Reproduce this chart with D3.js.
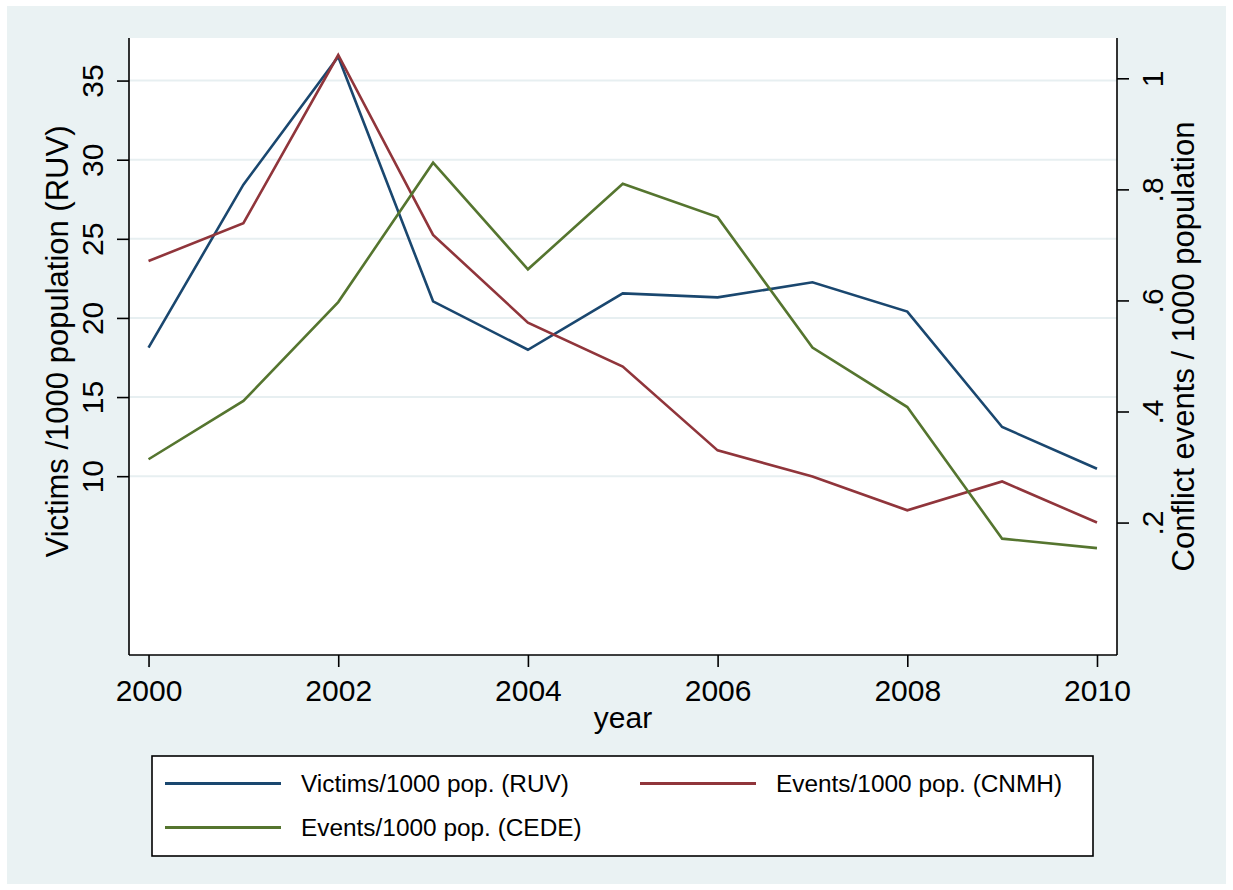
<!DOCTYPE html>
<html>
<head>
<meta charset="utf-8">
<script src="https://cdn.jsdelivr.net/npm/d3@7"></script>
<style>
  html, body { margin: 0; padding: 0; background: #ffffff; }
  svg text { font-family: "Liberation Sans", Arial, sans-serif; fill: #000; }
</style>
</head>
<body>
<svg id="chart" width="1233" height="890"></svg>
<script>
// Years on the x axis
const years = [2000, 2001, 2002, 2003, 2004, 2005, 2006, 2007, 2008, 2009, 2010];
// Victims per 1000 population (RUV) - left axis
const victimsRUV = [18.12, 28.42, 36.51, 21.05, 17.99, 21.55, 21.30, 22.25, 20.40, 13.11, 10.47];
// Conflict events per 1000 population (CNMH) - right axis
const eventsCNMH = [0.671, 0.739, 1.042, 0.718, 0.560, 0.481, 0.330, 0.283, 0.222, 0.274, 0.200];
// Conflict events per 1000 population (CEDE) - right axis
const eventsCEDE = [0.314, 0.419, 0.597, 0.848, 0.656, 0.810, 0.750, 0.515, 0.408, 0.171, 0.154];

const xTicks = [2000, 2002, 2004, 2006, 2008, 2010];
const leftTicks = [10, 15, 20, 25, 30, 35];
const rightTicks = [0.2, 0.4, 0.6, 0.8, 1];

const seriesNames = ["Victims/1000 pop. (RUV)", "Events/1000 pop. (CNMH)", "Events/1000 pop. (CEDE)"];
const seriesColors = ["#1a476f", "#90353b", "#55752f"];

const svg = d3.select("#chart");
const W = 1233, H = 890;
const plot = { left: 129, right: 1117, top: 38, bottom: 655 };

// Outer graph region
svg.append("rect").attr("x", 7).attr("y", 6).attr("width", W - 14).attr("height", H - 12)
  .attr("fill", "#eaf2f3");
// Plot region
svg.append("rect").attr("x", plot.left).attr("y", plot.top)
  .attr("width", plot.right - plot.left).attr("height", plot.bottom - plot.top)
  .attr("fill", "#ffffff");

const x = d3.scaleLinear().domain([1999.794, 2010.211]).range([plot.left, plot.right]);
const yL = d3.scaleLinear().domain([-1.3, 37.69]).range([plot.bottom, plot.top]);
const yR = d3.scaleLinear().domain([-0.0385, 1.0726]).range([plot.bottom, plot.top]);

// Horizontal gridlines at the left-axis ticks
svg.append("g").selectAll("line").data(leftTicks).join("line")
  .attr("x1", plot.left).attr("x2", plot.right)
  .attr("y1", d => yL(d)).attr("y2", d => yL(d))
  .attr("stroke", "#e7eff1").attr("stroke-width", 2);

// Series lines
const seriesData = [
  { values: victimsRUV, scale: yL },
  { values: eventsCNMH, scale: yR },
  { values: eventsCEDE, scale: yR }
];
seriesData.forEach((s, i) => {
  const line = d3.line().x((d, j) => x(years[j])).y(d => s.scale(d));
  svg.append("path").datum(s.values).attr("d", line)
    .attr("fill", "none").attr("stroke", seriesColors[i])
    .attr("stroke-width", 2.6).attr("stroke-linejoin", "miter");
});

// Axes
const fmtR = d => d === 1 ? "1" : d3.format(".1f")(d).replace(/^0/, "");

const gx = svg.append("g").attr("transform", `translate(0,${plot.bottom})`)
  .call(d3.axisBottom(x).tickValues(xTicks).tickFormat(d3.format("d")).tickSize(12).tickSizeOuter(0).tickPadding(13));
gx.select(".domain").attr("d", `M${plot.left},0H${plot.right}`);

const gl = svg.append("g").attr("transform", `translate(${plot.left},0)`)
  .call(d3.axisLeft(yL).tickValues(leftTicks).tickSize(12).tickSizeOuter(0));
gl.select(".domain").attr("d", `M0,${plot.top}V${plot.bottom}`);

const gr = svg.append("g").attr("transform", `translate(${plot.right},0)`)
  .call(d3.axisRight(yR).tickValues(rightTicks).tickFormat(fmtR).tickSize(12).tickSizeOuter(0));
gr.select(".domain").attr("d", `M0,${plot.top}V${plot.bottom}`);

[gx, gl, gr].forEach(g => {
  g.selectAll(".domain").attr("stroke", "#000").attr("stroke-width", 1.6);
  g.selectAll(".tick line").attr("stroke", "#000").attr("stroke-width", 1.6);
  g.selectAll("text").attr("font-size", 30).attr("font-family", "Liberation Sans, Arial, sans-serif");
});

// Rotated tick labels on the vertical axes
gl.selectAll(".tick text")
  .attr("x", null).attr("dy", null)
  .attr("text-anchor", "middle")
  .attr("transform", "translate(-26,0) rotate(-90)");
gr.selectAll(".tick text")
  .attr("x", null).attr("dy", null)
  .attr("text-anchor", "middle")
  .attr("transform", "translate(46,0) rotate(-90)");

// Axis titles
const midY = (plot.top + plot.bottom) / 2;
svg.append("text").attr("transform", `translate(68,${midY - 5}) rotate(-90)`)
  .attr("text-anchor", "middle").attr("font-size", 31)
  .text("Victims /1000 population (RUV)");
svg.append("text").attr("transform", `translate(1194,${midY}) rotate(-90)`)
  .attr("text-anchor", "middle").attr("font-size", 31)
  .text("Conflict events / 1000 population");
svg.append("text").attr("x", (plot.left + plot.right) / 2).attr("y", 728)
  .attr("text-anchor", "middle").attr("font-size", 30).text("year");

// Legend
const legend = { x: 152, y: 756, w: 941, h: 100 };
svg.append("rect").attr("x", legend.x).attr("y", legend.y)
  .attr("width", legend.w).attr("height", legend.h)
  .attr("fill", "#ffffff").attr("stroke", "#000").attr("stroke-width", 1.6);
const legendPos = [
  { lx: 165, ly: 783.5 },
  { lx: 640, ly: 783.5 },
  { lx: 165, ly: 827.5 }
];
seriesNames.forEach((name, i) => {
  const p = legendPos[i];
  svg.append("line").attr("x1", p.lx).attr("x2", p.lx + 116)
    .attr("y1", p.ly).attr("y2", p.ly)
    .attr("stroke", seriesColors[i]).attr("stroke-width", 2.8);
  svg.append("text").attr("x", p.lx + 136).attr("y", p.ly + 8.5)
    .attr("font-size", 24.4).text(name);
});
</script>
</body>
</html>
